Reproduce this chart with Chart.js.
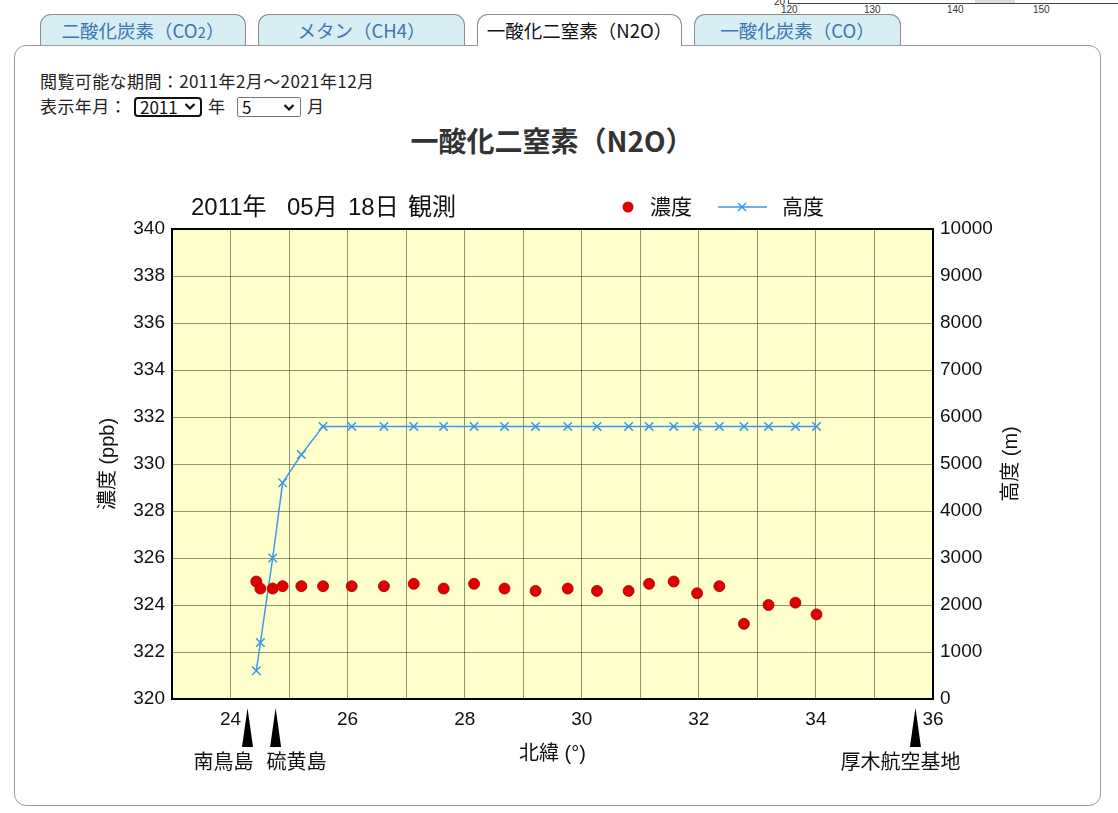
<!DOCTYPE html>
<html lang="ja">
<head>
<meta charset="utf-8">
<script src="https://cdn.jsdelivr.net/npm/chart.js@4/dist/chart.umd.min.js"></script>
<style>
  html, body { margin:0; padding:0; background:#fff; }
  body { width:1118px; height:813px; position:relative; overflow:hidden;
         font-family:"Noto Sans CJK JP","Noto Sans",sans-serif; color:#222; }
  .abs { position:absolute; }
  .tab { position:absolute; top:14px; height:30px; border:1px solid #8c8c8c; border-bottom:none;
         border-radius:11px 11px 0 0; background:#d7eef4; color:#3a76b0; font-size:18.5px;
         line-height:30px; text-align:center; box-sizing:content-box; white-space:nowrap; }
  .tab.active { background:#fff; color:#111; height:31px; z-index:3; }
  .panel { position:absolute; left:14px; top:45px; width:1085px; height:759px;
           border:1px solid #9a9a9a; border-radius:12px; z-index:2; background:transparent; }
  .txt { position:absolute; font-size:17px; letter-spacing:0.4px; line-height:20px; color:#222; white-space:nowrap; }
  .sel { position:absolute; box-sizing:border-box; font-size:17px; line-height:18px; color:#111;
         padding-left:4px; white-space:nowrap; }
  .chev { position:absolute; top:4px; width:12px; height:9px; }
  #remnant span { position:absolute; font-family:"Liberation Sans",sans-serif; font-size:10px; color:#333; line-height:10px; }
  #wrap { position:absolute; left:90px; top:180px; width:950px; height:610px; z-index:4; }
</style>
</head>
<body>
<!-- remnant of a chart above, cut off at top of the window -->
<div id="remnant">
  <div class="abs" style="left:788px;top:3px;width:330px;height:1px;background:#444;"></div>
  <div class="abs" style="left:788px;top:0px;width:1px;height:4px;background:#444;"></div>
  <div class="abs" style="left:975px;top:0px;width:40px;height:3px;background:#ddd;"></div>
  <span style="left:774px;top:-3px;">20</span>
  <span style="left:781px;top:5px;">120</span>
  <span style="left:864px;top:5px;">130</span>
  <span style="left:947px;top:5px;">140</span>
  <span style="left:1033px;top:5px;">150</span>
</div>

<div class="tab" style="left:40px;width:204px;">二酸化炭素（CO<span style="font-size:15px">2</span>）</div>
<div class="tab" style="left:258px;width:205px;">メタン（CH4）</div>
<div class="tab active" style="left:477px;width:203px;">一酸化二窒素（N2O）</div>
<div class="tab" style="left:694px;width:205px;">一酸化炭素（CO）</div>
<div class="panel"></div>

<div class="txt" style="left:40px;top:71px;">閲覧可能な期間：2011年2月～2021年12月</div>
<div class="txt" style="left:40px;top:96px;">表示年月：</div>
<div class="sel" style="left:134px;top:97px;width:68px;height:20px;border:2px solid #111;border-radius:4px;line-height:16px;">2011
  <svg class="chev" style="left:48px;top:3px;" viewBox="0 0 12 9"><path d="M1.5 2 L6 6.5 L10.5 2" fill="none" stroke="#111" stroke-width="2.2"/></svg></div>
<div class="txt" style="left:208px;top:96px;">年</div>
<div class="sel" style="left:237px;top:97px;width:64px;height:20px;border:1px solid #767676;border-radius:2px;">5
  <svg class="chev" style="left:45px;top:5px;" viewBox="0 0 12 9"><path d="M1.5 2 L6 6.5 L10.5 2" fill="none" stroke="#111" stroke-width="2.2"/></svg></div>
<div class="txt" style="left:307px;top:96px;">月</div>

<div class="abs" style="left:0;top:121px;width:1104px;text-align:center;font-size:28px;font-weight:bold;line-height:38px;color:#333;z-index:3;">一酸化二窒素（N2O）</div>

<div id="wrap"><canvas id="c" width="950" height="610"></canvas></div>

<script>
// ---- data ----
const latitudes = [24.44, 24.51, 24.72, 24.89, 25.21, 25.58, 26.07, 26.62, 27.13, 27.64, 28.16, 28.68,
                   29.21, 29.76, 30.26, 30.80, 31.15, 31.57, 31.97, 32.35, 32.77, 33.19, 33.65, 34.01];
const concentration = [325.0, 324.7, 324.7, 324.8, 324.8, 324.8, 324.8, 324.8, 324.9, 324.7, 324.9, 324.7,
                       324.6, 324.7, 324.6, 324.6, 324.9, 325.0, 324.5, 324.8, 323.2, 324.0, 324.1, 323.6];
const altitude = [600, 1200, 3000, 4600, 5200, 5800, 5800, 5800, 5800, 5800, 5800, 5800,
                  5800, 5800, 5800, 5800, 5800, 5800, 5800, 5800, 5800, 5800, 5800, 5800];
const stationNames = ['南鳥島', '硫黄島', '厚木航空基地'];
const stationLats = [24.29, 24.77, 35.70];
const xTickLabels = [24, 26, 28, 30, 32, 34, 36];
const seriesNames = ['濃度', '高度'];
const subtitleParts = ['2011年', '05月', '18日', '観測'];
const axisTitles = { left: '濃度 (ppb)', right: '高度 (m)', bottom: '北緯 (°)' };

const FONT = '"Liberation Sans", "Noto Sans CJK JP", sans-serif';
const RED = '#e00000';
const BLUE = '#3d98e6';

const concPoints = latitudes.map((x, i) => ({ x, y: concentration[i] }));
const altPoints = latitudes.map((x, i) => ({ x, y: altitude[i] }));

const decor = {
  id: 'decor',
  beforeDraw(chart) {
    const { ctx, chartArea: a } = chart;
    ctx.save();
    ctx.fillStyle = '#ffffcc';
    ctx.fillRect(a.left, a.top, a.right - a.left, a.bottom - a.top);
    ctx.restore();
  },
  afterDraw(chart) {
    const { ctx, chartArea: a, scales } = chart;
    ctx.save();
    // frame
    ctx.strokeStyle = '#000';
    ctx.lineWidth = 2;
    ctx.strokeRect(a.left, a.top, a.right - a.left, a.bottom - a.top);

    ctx.fillStyle = '#111';
    ctx.textBaseline = 'middle';
    // subtitle (date of observation), pieces spaced as in the original
    ctx.font = '24px ' + FONT;
    ctx.textAlign = 'left';
    const subX = [101, 197, 258, 318];
    subtitleParts.forEach((t, i) => ctx.fillText(t, subX[i], 28));

    // legend
    ctx.font = '21px ' + FONT;
    ctx.beginPath();
    ctx.fillStyle = RED;
    ctx.arc(538, 27, 5.5, 0, Math.PI * 2);
    ctx.fill();
    ctx.fillStyle = '#111';
    ctx.fillText(seriesNames[0], 560, 28);
    ctx.strokeStyle = BLUE;
    ctx.lineWidth = 1.5;
    ctx.beginPath();
    ctx.moveTo(628, 27); ctx.lineTo(677, 27);
    ctx.moveTo(648, 23); ctx.lineTo(656, 31);
    ctx.moveTo(656, 23); ctx.lineTo(648, 31);
    ctx.stroke();
    ctx.fillText(seriesNames[1], 692, 28);

    // right axis title, reading bottom to top
    ctx.font = '20px ' + FONT;
    ctx.save();
    ctx.translate(921, (a.top + a.bottom) / 2);
    ctx.rotate(-Math.PI / 2);
    ctx.textAlign = 'center';
    ctx.fillText(axisTitles.right, 0, 0);
    ctx.restore();

    // station markers
    const xs = scales.x;
    const offs = [{ dx: 6, align: 'right' }, { dx: -9, align: 'left' }, { dx: -15, align: 'center' }];
    ctx.font = '20px ' + FONT;
    stationLats.forEach((lat, i) => {
      const px = xs.getPixelForValue(lat);
      ctx.fillStyle = '#000';
      ctx.beginPath();
      ctx.moveTo(px, a.bottom + 9);
      ctx.lineTo(px + 5.5, a.bottom + 48);
      ctx.lineTo(px - 5.5, a.bottom + 48);
      ctx.closePath();
      ctx.fill();
      ctx.fillStyle = '#111';
      ctx.textAlign = offs[i].align;
      ctx.fillText(stationNames[i], px + offs[i].dx, a.bottom + 64);
    });
    ctx.restore();
  }
};

new Chart(document.getElementById('c'), {
  type: 'scatter',
  data: {
    datasets: [
      { label: seriesNames[0], data: concPoints, yAxisID: 'y', showLine: false,
        pointStyle: 'circle', pointRadius: 5.5, pointHoverRadius: 5.5,
        backgroundColor: RED, borderColor: '#a00000', pointBorderWidth: 0.8, order: 1 },
      { label: seriesNames[1], data: altPoints, yAxisID: 'y2', showLine: true,
        pointStyle: 'crossRot', pointRadius: 6, pointHoverRadius: 6,
        borderColor: BLUE, backgroundColor: BLUE, borderWidth: 1.5, pointBorderWidth: 1.5, order: 2 }
    ]
  },
  options: {
    responsive: false,
    animation: false,
    events: [],
    layout: { padding: { top: 49, left: 0, right: 0, bottom: 0 } },
    plugins: { legend: { display: false }, title: { display: false }, tooltip: { enabled: false } },
    scales: {
      x: {
        type: 'linear', min: 23, max: 36,
        afterFit(s) { s.height = 91; },
        ticks: { stepSize: 1, autoSkip: false, maxRotation: 0, padding: 9, color: '#111',
                 font: { family: FONT, size: 19 },
                 callback: v => xTickLabels.includes(v) ? String(v) : '' },
        grid: { color: 'rgba(40,40,20,0.5)', lineWidth: 1, drawTicks: false },
        border: { color: '#000', width: 2 },
        title: { display: true, text: axisTitles.bottom, color: '#111', padding: 24,
                 font: { family: FONT, size: 20 } }
      },
      y: {
        type: 'linear', position: 'left', min: 320, max: 340,
        afterFit(s) { s.width = 82; },
        ticks: { stepSize: 2, padding: 7, color: '#111', font: { family: FONT, size: 19 },
                 callback: v => String(v) },
        grid: { color: 'rgba(40,40,20,0.5)', lineWidth: 1, drawTicks: false },
        border: { color: '#000', width: 2 },
        title: { display: true, text: axisTitles.left, color: '#111', padding: 6,
                 font: { family: FONT, size: 20 } }
      },
      y2: {
        type: 'linear', position: 'right', min: 0, max: 10000,
        afterFit(s) { s.width = 107; },
        ticks: { stepSize: 1000, padding: 7, color: '#111', font: { family: FONT, size: 19 },
                 callback: v => String(v) },
        grid: { drawOnChartArea: false, drawTicks: false },
        border: { color: '#000', width: 2 }
      }
    }
  },
  plugins: [decor]
});
</script>
</body>
</html>
